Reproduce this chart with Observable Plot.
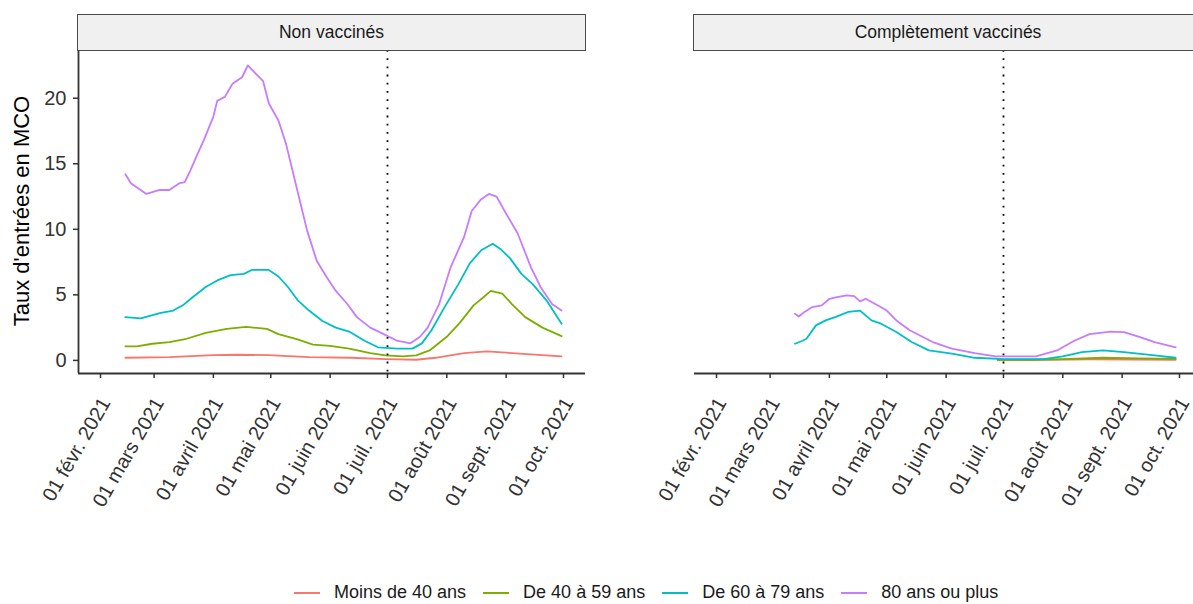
<!DOCTYPE html>
<html>
<head>
<meta charset="utf-8">
<script src="https://cdn.jsdelivr.net/npm/d3@7"></script>
<script src="https://cdn.jsdelivr.net/npm/@observablehq/plot@0.6"></script>
<style>
  body { margin: 0; background: #fff; overflow: hidden; }
  #wrap { position: relative; width: 1193px; height: 604px; overflow: hidden;
          font-family: "Liberation Sans", Arial, Helvetica, sans-serif; }
  .strip { position: absolute; top: 14px; height: 37px; box-sizing: border-box;
           background: #f0f0f0; border: 1.6px solid #4a4a4a;
           display: flex; align-items: center; justify-content: center;
           font-size: 17.5px; color: #1a1a1a; }
  .chart { position: absolute; top: 0; }
  #ytitle { position: absolute; left: 22px; top: 211px; transform: translate(-50%, -50%) rotate(-90deg);
            font-size: 22px; color: #000; white-space: nowrap; }
  #legend { position: absolute; left: 294px; top: 582px; display: flex; align-items: center;
            gap: 17px; font-size: 18px; color: #1a1a1a; white-space: nowrap; }
  .item { display: flex; align-items: center; gap: 14px; }
  .item svg { display: block; }
</style>
</head>
<body>
<div id="wrap">
  <div id="left" class="chart"></div>
  <div id="right" class="chart"></div>
  <div id="strip0" class="strip"></div>
  <div id="strip1" class="strip"></div>
  <div id="ytitle"></div>
  <div id="legend"></div>
</div>
<script>
// ---------- labels / categories ----------
const groups = ["Moins de 40 ans", "De 40 à 59 ans", "De 60 à 79 ans", "80 ans ou plus"];
const colors = ["#F8766D", "#7CAE00", "#00BFC4", "#C77CFF"];
const panels = ["Non vaccinés", "Complètement vaccinés"];
const yTitle = "Taux d'entrées en MCO";
const tickDates = ["2021-02-01","2021-03-01","2021-04-01","2021-05-01","2021-06-01","2021-07-01","2021-08-01","2021-09-01","2021-10-01"];
const tickLabels = ["01 févr. 2021","01 mars 2021","01 avril 2021","01 mai 2021","01 juin 2021","01 juil. 2021","01 août 2021","01 sept. 2021","01 oct. 2021"];
const yTicks = [0, 5, 10, 15, 20];
const cutoffDate = "2021-07-01";
const xDomain = ["2021-01-20T12:00Z", "2021-10-12T12:00Z"];
const yDomain = [-1.0, 23.64];

// ---------- Non vaccinés ----------
const nvU40Dates = ["2021-02-14","2021-03-09","2021-04-01","2021-04-13","2021-04-30","2021-05-21","2021-06-12","2021-06-30","2021-07-16","2021-07-26","2021-08-10","2021-08-22","2021-09-04","2021-09-30"];
const nvU40 = [0.2, 0.25, 0.4, 0.43, 0.4, 0.25, 0.2, 0.1, 0.05, 0.2, 0.56, 0.69, 0.56, 0.3];

const nv4059Dates = ["2021-02-14","2021-02-20","2021-02-28","2021-03-09","2021-03-18","2021-03-28","2021-04-08","2021-04-18","2021-04-29","2021-05-05","2021-05-15","2021-05-23","2021-06-01","2021-06-11","2021-06-22","2021-06-30","2021-07-09","2021-07-16","2021-07-23","2021-08-01","2021-08-08","2021-08-15","2021-08-20","2021-08-24","2021-08-30","2021-09-04","2021-09-11","2021-09-20","2021-09-30"];
const nv4059 = [1.07, 1.07, 1.27, 1.4, 1.65, 2.1, 2.4, 2.55, 2.4, 2.0, 1.6, 1.2, 1.1, 0.9, 0.55, 0.38, 0.3, 0.38, 0.76, 1.8, 2.9, 4.2, 4.8, 5.3, 5.1, 4.3, 3.3, 2.5, 1.85];

const nv6079Dates = ["2021-02-14","2021-02-22","2021-03-04","2021-03-11","2021-03-16","2021-03-21","2021-03-28","2021-04-03","2021-04-10","2021-04-17","2021-04-21","2021-04-30","2021-05-05","2021-05-10","2021-05-15","2021-05-21","2021-05-28","2021-06-04","2021-06-11","2021-06-19","2021-06-26","2021-07-06","2021-07-14","2021-07-19","2021-07-24","2021-07-31","2021-08-07","2021-08-13","2021-08-19","2021-08-25","2021-08-29","2021-09-03","2021-09-09","2021-09-15","2021-09-22","2021-09-30"];
const nv6079 = [3.3, 3.2, 3.6, 3.8, 4.2, 4.8, 5.6, 6.1, 6.5, 6.6, 6.9, 6.9, 6.4, 5.6, 4.6, 3.8, 3.0, 2.5, 2.2, 1.5, 1.0, 0.9, 0.9, 1.3, 2.3, 4.1, 5.8, 7.4, 8.4, 8.9, 8.5, 7.8, 6.6, 5.8, 4.6, 2.8];

const nv80Dates = ["2021-02-14","2021-02-17","2021-02-25","2021-03-04","2021-03-09","2021-03-14","2021-03-17","2021-03-20","2021-03-23","2021-03-27","2021-04-01","2021-04-03","2021-04-07","2021-04-11","2021-04-16","2021-04-19","2021-04-23","2021-04-27","2021-04-30","2021-05-05","2021-05-09","2021-05-14","2021-05-20","2021-05-25","2021-05-30","2021-06-04","2021-06-10","2021-06-15","2021-06-22","2021-06-29","2021-07-06","2021-07-13","2021-07-18","2021-07-22","2021-07-28","2021-08-03","2021-08-10","2021-08-14","2021-08-19","2021-08-23","2021-08-27","2021-09-01","2021-09-07","2021-09-14","2021-09-19","2021-09-25","2021-09-30"];
const nv80 = [14.2, 13.5, 12.7, 13.0, 13.0, 13.5, 13.6, 14.5, 15.5, 16.8, 18.6, 19.8, 20.1, 21.1, 21.6, 22.5, 21.9, 21.3, 19.6, 18.3, 16.5, 13.5, 9.9, 7.6, 6.4, 5.3, 4.3, 3.3, 2.5, 2.0, 1.5, 1.3, 1.8, 2.5, 4.3, 7.1, 9.4, 11.4, 12.3, 12.7, 12.5, 11.2, 9.7, 7.1, 5.6, 4.3, 3.8];

// ---------- Complètement vaccinés ----------
const vU40Dates = ["2021-06-28","2021-07-15","2021-08-15","2021-09-29"];
const vU40 = [0.03, 0.03, 0.08, 0.05];

const v4059Dates = ["2021-06-28","2021-07-15","2021-08-01","2021-08-22","2021-09-10","2021-09-29"];
const v4059 = [0.05, 0.05, 0.1, 0.2, 0.15, 0.12];

const v6079Dates = ["2021-03-14","2021-03-18","2021-03-20","2021-03-25","2021-03-30","2021-04-04","2021-04-11","2021-04-17","2021-04-23","2021-04-28","2021-05-06","2021-05-14","2021-05-23","2021-06-04","2021-06-16","2021-07-01","2021-07-22","2021-08-01","2021-08-11","2021-08-22","2021-09-02","2021-09-18","2021-09-29"];
const v6079 = [1.27, 1.5, 1.65, 2.67, 3.05, 3.3, 3.7, 3.8, 3.05, 2.8, 2.16, 1.4, 0.76, 0.51, 0.2, 0.1, 0.1, 0.3, 0.63, 0.76, 0.63, 0.38, 0.2];

const v80Dates = ["2021-03-14","2021-03-16","2021-03-19","2021-03-23","2021-03-28","2021-04-01","2021-04-05","2021-04-10","2021-04-14","2021-04-17","2021-04-20","2021-04-25","2021-05-01","2021-05-06","2021-05-13","2021-05-25","2021-06-04","2021-06-16","2021-06-27","2021-07-18","2021-07-29","2021-08-07","2021-08-15","2021-08-26","2021-09-02","2021-09-10","2021-09-18","2021-09-29"];
const v80 = [3.56, 3.35, 3.7, 4.07, 4.2, 4.7, 4.83, 4.96, 4.9, 4.5, 4.7, 4.3, 3.8, 3.05, 2.3, 1.4, 0.9, 0.56, 0.3, 0.3, 0.76, 1.5, 2.0, 2.2, 2.15, 1.8, 1.4, 1.0];

// ---------- build table ----------
function rowsOf(panel, group, dates, values) {
  return dates.map((d, i) => ({panel, group, date: new Date(d), value: values[i]}));
}
const data = [
  ...rowsOf(panels[0], groups[0], nvU40Dates, nvU40),
  ...rowsOf(panels[0], groups[1], nv4059Dates, nv4059),
  ...rowsOf(panels[0], groups[2], nv6079Dates, nv6079),
  ...rowsOf(panels[0], groups[3], nv80Dates, nv80),
  ...rowsOf(panels[1], groups[0], vU40Dates, vU40),
  ...rowsOf(panels[1], groups[1], v4059Dates, v4059),
  ...rowsOf(panels[1], groups[2], v6079Dates, v6079),
  ...rowsOf(panels[1], groups[3], v80Dates, v80)
];

const labelMap = new Map(tickDates.map((d, i) => [+new Date(d), tickLabels[i]]));
const xDom = xDomain.map(d => new Date(d));
const xTickDates = tickDates.map(d => new Date(d));
const FONT = '"Liberation Sans", Arial, Helvetica, sans-serif';

function panelPlot(panel, showY, marginLeft, width) {
  const rows = data.filter(d => d.panel === panel);
  return Plot.plot({
    width, height: 540,
    marginLeft, marginRight: 0, marginTop: 50, marginBottom: 167,
    style: {fontFamily: FONT, fontSize: "20px", background: "transparent", maxWidth: "none", overflow: "visible", color: "#333"},
    x: {type: "utc", domain: xDom, label: null},
    y: {domain: yDomain, label: null, axis: showY ? undefined : null},
    color: {domain: groups, range: colors},
    marks: [
      // tick marks only
      Plot.axisX({ticks: xTickDates, tickFormat: () => "", tickSize: 5,
                  stroke: "#333", strokeWidth: 1.5, label: null}),
      // rotated tick labels
      Plot.axisX({ticks: xTickDates, tickFormat: d => labelMap.get(+d),
                  tickRotate: -60, tickSize: 0, tickPadding: 24, fontSize: 20, dx: 5, dy: 2,
                  fill: "#333", label: null}),
      showY ? Plot.axisY({ticks: yTicks, tickSize: 5, tickPadding: 7, fontSize: 20,
                  stroke: "#333", strokeWidth: 1.5, fill: "#333", label: null}) : null,
      Plot.ruleY([yDomain[0]], {stroke: "#333", strokeWidth: 1.8}),
      showY ? Plot.ruleX([xDom[0]], {stroke: "#333", strokeWidth: 1.8}) : null,
      Plot.line(rows, {x: "date", y: "value", z: "group", stroke: "group", strokeWidth: 1.8}),
      Plot.ruleX([new Date(cutoffDate)], {stroke: "#000", strokeWidth: 1.8, strokeDasharray: "1.8,6.4"})
    ]
  });
}

const left = document.getElementById("left");
left.style.left = "0px";
left.appendChild(panelPlot(panels[0], true, 78, 585));
const right = document.getElementById("right");
right.style.left = "594px";
right.appendChild(panelPlot(panels[1], false, 100, 607));

// strips
const s0 = document.getElementById("strip0");
s0.style.left = "77px"; s0.style.width = "509px"; s0.textContent = panels[0];
const s1 = document.getElementById("strip1");
s1.style.left = "693px"; s1.style.width = "510px"; s1.textContent = panels[1];

document.getElementById("ytitle").textContent = yTitle;

// legend
const legend = document.getElementById("legend");
groups.forEach((g, i) => {
  const item = document.createElement("div");
  item.className = "item";
  item.innerHTML = `<svg width="26" height="4"><line x1="0" y1="2" x2="26" y2="2" stroke="${colors[i]}" stroke-width="2"/></svg><span></span>`;
  item.querySelector("span").textContent = g;
  legend.appendChild(item);
});
</script>
</body>
</html>
